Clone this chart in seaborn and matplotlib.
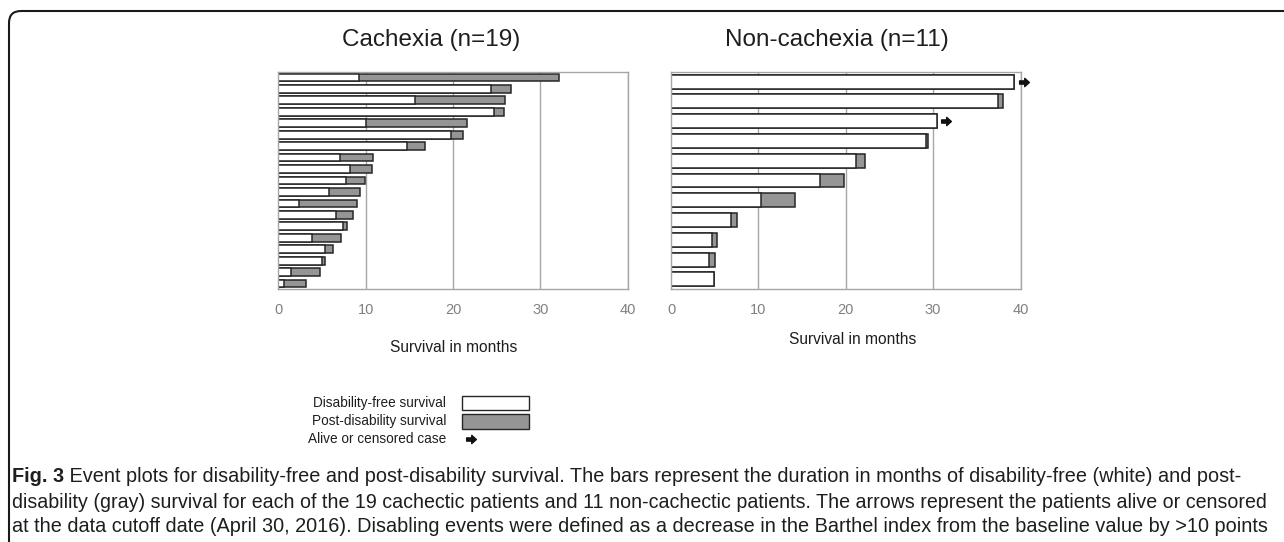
import matplotlib
matplotlib.use("Agg")
import matplotlib.pyplot as plt
from matplotlib import font_manager
from matplotlib.patches import Rectangle, FancyBboxPatch
from matplotlib.path import Path
from matplotlib.transforms import IdentityTransform
import numpy as np
import pandas as pd
import seaborn as sns

# ---------------- data ----------------
cachexia_free = [9.2, 24.4, 15.7, 24.7, 10.0, 19.8, 14.7, 7.1, 8.2, 7.8,
                 5.8, 2.4, 6.6, 7.4, 3.8, 5.3, 5.0, 1.5, 0.7]
cachexia_post = [22.9, 2.2, 10.3, 1.1, 11.6, 1.3, 2.1, 3.7, 2.5, 2.1,
                 3.6, 6.6, 1.9, 0.5, 3.4, 1.0, 0.3, 3.3, 2.5]
cachexia_alive = [False] * 19

noncachexia_free = [39.3, 37.4, 30.4, 29.2, 21.2, 17.1, 10.3, 6.9, 4.7, 4.4, 4.9]
noncachexia_post = [0.0, 0.65, 0.0, 0.2, 1.05, 2.75, 3.9, 0.7, 0.6, 0.6, 0.0]
noncachexia_alive = [True, False, True, False, False, False, False, False, False, False, False]

x_ticks = [0, 10, 20, 30, 40]
titles = ["Cachexia (n=19)", "Non-cachexia (n=11)"]
x_label = "Survival in months"
legend_labels = ["Disability-free survival", "Post-disability survival", "Alive or censored case"]
caption_bold = "Fig. 3"
caption_lines = [
    " Event plots for disability-free and post-disability survival. The bars represent the duration in months of disability-free (white) and post-",
    "disability (gray) survival for each of the 19 cachectic patients and 11 non-cachectic patients. The arrows represent the patients alive or censored",
    "at the data cutoff date (April 30, 2016). Disabling events were defined as a decrease in the Barthel index from the baseline value by >10 points",
]

# ---------------- style ----------------
W, H = 1284, 542
GRAY = "#959595"
EDGE = "#262626"
GRID = "#a6a6a6"
TICKC = "#808080"
TXT = "#1e1e1e"

sns.set_theme(style="white")
plt.rcParams["font.family"] = ["Liberation Sans", "DejaVu Sans"]

names = {f.name for f in font_manager.fontManager.ttflist}
cap_family = ["Liberation Sans Narrow", "DejaVu Sans"] if "Liberation Sans Narrow" in names else ["Liberation Sans", "DejaVu Sans"]

fig = plt.figure(figsize=(W / 100, H / 100), dpi=100)


def fx(x):
    return x / W


def fy(y):
    return 1 - y / H


arrow_path = Path([(-1, -0.33), (0.05, -0.33), (0.05, -0.85), (1, 0),
                   (0.05, 0.85), (0.05, 0.33), (-1, 0.33), (-1, -0.33)],
                  [Path.MOVETO] + [Path.LINETO] * 6 + [Path.CLOSEPOLY])

panels = [
    (cachexia_free, cachexia_post, cachexia_alive, 278.3, "C"),
    (noncachexia_free, noncachexia_post, noncachexia_alive, 671.0, "N"),
]
for (free, post, alive, left_px, prefix) in panels:
    ax = fig.add_axes([fx(left_px), fy(289.3), 349.5 / W, 217.6 / H])
    n = len(free)
    df = pd.DataFrame({
        "patient": [f"{prefix}{i+1}" for i in range(n)],
        "free": free,
        "total": np.array(free) + np.array(post),
        "alive": alive,
    })
    width = 0.67 if n > 15 else 0.70
    sns.barplot(data=df, x="total", y="patient", orient="h", color=GRAY,
                saturation=1, edgecolor=EDGE, linewidth=1.1, width=width, ax=ax)
    sns.barplot(data=df, x="free", y="patient", orient="h", color="white",
                saturation=1, edgecolor=EDGE, linewidth=1.1, width=width, ax=ax)
    sub = df[df["alive"]]
    if len(sub):
        ax.scatter(sub["total"] + 1.1, [list(df["patient"]).index(p) for p in sub["patient"]],
                   marker=arrow_path, s=7.0 ** 2, color="#111111", clip_on=False, zorder=5)
    ax.set_xlim(0, 40)
    ax.set_ylim(n - 0.5, -0.5)
    ax.set_xticks(x_ticks)
    ax.set_xticklabels([str(t) for t in x_ticks], color=TICKC, fontsize=10.5)
    ax.set_yticks([])
    ax.set_xlabel("")
    ax.set_ylabel("")
    ax.tick_params(axis="x", length=0, pad=10)
    ax.set_axisbelow(True)
    ax.grid(axis="x", color=GRID, linewidth=1.0)
    ax.grid(axis="y", visible=False)
    for s in ax.spines.values():
        s.set_visible(True)
        s.set_color(GRID)
        s.set_linewidth(1.0)

# titles and x labels
fig.text(fx(431.5), fy(40), titles[0], ha="center", va="center", fontsize=17.5, color=TXT)
fig.text(fx(836.5), fy(40), titles[1], ha="center", va="center", fontsize=17.5, color=TXT)
fig.text(fx(453.5), fy(348), x_label, ha="center", va="center", fontsize=11.2, color=TXT)
fig.text(fx(853), fy(340), x_label, ha="center", va="center", fontsize=11.2, color=TXT)

# legend (hand placed)
leg_y = [403, 421.5, 439]
for lab, yy in zip(legend_labels, leg_y):
    fig.text(fx(446), fy(yy), lab, ha="right", va="center", fontsize=9.8, color=TXT)
fig.add_artist(Rectangle((fx(462), fy(410)), 67 / W, 14 / H, transform=fig.transFigure,
                         facecolor="white", edgecolor=EDGE, linewidth=1.0))
fig.add_artist(Rectangle((fx(462), fy(429)), 67 / W, 15 / H, transform=fig.transFigure,
                         facecolor=GRAY, edgecolor=EDGE, linewidth=1.0))
lax = fig.add_axes([0, 0, 1, 1], facecolor="none")
lax.set_xlim(0, W)
lax.set_ylim(H, 0)
lax.axis("off")
lax.scatter([471], [439], marker=arrow_path, s=7.0 ** 2, color="#111111", zorder=5)

# figure frame with rounded corner
fig.add_artist(FancyBboxPatch((9, -60), 1400, (H - 11) + 60,
                              boxstyle="round,pad=0,rounding_size=12",
                              transform=IdentityTransform(), facecolor="none",
                              edgecolor="#1a1a1a", linewidth=1.5))

# caption, fitted to widths
targets = [1238, 1265, 1268]
line_y = [476, 502, 527]
fig.canvas.draw()
renderer = fig.canvas.get_renderer()
x0 = 12


def draw_line(i, txt, yy, fs):
    parts = []
    xs = x0
    if i == 0:
        b = fig.text(fx(xs), fy(yy), caption_bold, ha="left", va="center", fontsize=fs,
                     fontweight="bold", family=cap_family, color=TXT)
        parts.append(b)
        xs = b.get_window_extent(renderer).x1
    t = fig.text(xs / W, fy(yy), txt, ha="left", va="center", fontsize=fs,
                 family=cap_family, color=TXT)
    parts.append(t)
    return parts, t.get_window_extent(renderer).x1 - x0


for i, (txt, tgt, yy) in enumerate(zip(caption_lines, targets, line_y)):
    fs = 13.0
    for _ in range(3):
        parts, w = draw_line(i, txt, yy, fs)
        for p in parts:
            p.remove()
        fs = fs * (tgt - x0) / w
    draw_line(i, txt, yy, fs)

fig.savefig("out.png", dpi=100)
